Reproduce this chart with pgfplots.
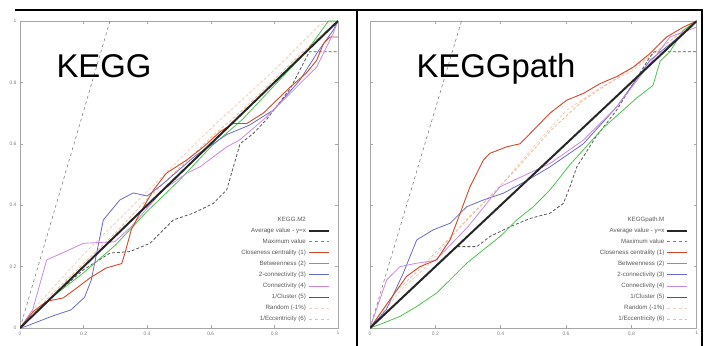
\documentclass[border=0pt]{standalone}
\usepackage{pgfplots}
\pgfplotsset{compat=1.18}
\usepackage{fontspec}
\setmainfont{Liberation Sans}

\definecolor{cred}{HTML}{D2462A}
\definecolor{cgreen}{HTML}{4CC24C}
\definecolor{cblue}{HTML}{6A6AC8}
\definecolor{cmag}{HTML}{CC88E0}
\definecolor{cdg}{HTML}{555555}
\definecolor{crand}{HTML}{F6CDBB}
\definecolor{cecc}{HTML}{F0BC98}

\pgfplotsset{
 panel/.style={scale only axis, height=307bp,
  xmin=0,xmax=1,ymin=0,ymax=1,
  xtick={0,0.2,0.4,0.6,0.8,1}, ytick={0,0.2,0.4,0.6,0.8,1},
  tick align=inside, tick pos=both, major tick length=3bp,
  axis line style={draw=gray!70, line width=0.6bp},
  tick style={draw=gray!70, line width=0.5bp},
  ticklabel style={font=\fontsize{5}{6}\selectfont, text=gray},
  /pgf/number format/assume math mode=true,
  legend cell align=right, legend plot pos=right,
  legend style={draw=none, fill=none, font=\fontsize{6.2}{7}\selectfont, text=black!65,
    at={(0.975,0.012)}, anchor=south east, row sep=1.1bp, inner sep=0pt},
  legend image code/.code={\draw[#1] (0bp,0bp) -- (20bp,0bp);},
  anchor=south west,
  every axis plot/.append style={line width=0.8bp},
 },
}

\begin{document}
\begin{tikzpicture}[x=1bp,y=1bp]
\useasboundingbox (0,0) rectangle (705,345);
% frames
\draw[line width=2bp] (15,335) -- (702,335);
\draw[line width=2bp] (357,335) -- (357,-2);
\draw[line width=2bp] (702,336) -- (702,-2);

%================ KEGG =================
\begin{axis}[panel, width=318bp, at={(20bp,17bp)}]
\addlegendimage{empty legend}\addlegendentry{KEGG.M2}
\addlegendimage{black!85, line width=2bp}\addlegendentry{Average value - y=x}
\addlegendimage{gray, dashed, line width=0.6bp}\addlegendentry{Maximum value}
\addlegendimage{cred, line width=0.9bp}\addlegendentry{Closeness centrality (1)}
\addlegendimage{cgreen, line width=0.9bp}\addlegendentry{Betweenness (2)}
\addlegendimage{cblue, line width=0.9bp}\addlegendentry{2-connectivity (3)}
\addlegendimage{cmag, line width=0.9bp}\addlegendentry{Connectivity (4)}
\addlegendimage{cdg, line width=0.9bp}\addlegendentry{1/Cluster (5)}
\addlegendimage{crand, dashed, line width=0.9bp}\addlegendentry{Random (-1\%)}
\addlegendimage{cecc, dashed, line width=0.9bp}\addlegendentry{1/Eccentricity (6)}
% Maximum value
\addplot[forget plot, gray, dashed, line width=0.6bp] coordinates {(0,0) (0.283,1)};
% Random
\addplot[forget plot, crand, densely dashed] coordinates {(0,0) (0.05,0.07) (0.2,0.24) (0.4,0.445) (0.6,0.65) (0.8,0.84) (0.943,0.988) (1,1)};
% 1/Eccentricity
\addplot[forget plot, cecc, densely dashed] coordinates {(0,0) (0.1,0.11) (0.2,0.21) (0.3,0.31) (0.4,0.42) (0.5,0.52) (0.6,0.62) (0.7,0.71) (0.8,0.81) (0.9,0.91) (1,1)};
% 1/Cluster
\addplot[forget plot, cdg, densely dashed] coordinates {(0,0) (0.1,0.1) (0.2,0.19) (0.283,0.244) (0.346,0.249) (0.409,0.276) (0.482,0.352) (0.545,0.374) (0.608,0.406) (0.65,0.45) (0.671,0.525) (0.692,0.60) (0.734,0.634) (0.776,0.68) (0.85,0.78) (0.91,0.9) (1,0.9)};
% Betweenness
\addplot[forget plot, cgreen] coordinates {(0,0) (0.1,0.1) (0.2,0.18) (0.3,0.27) (0.4,0.38) (0.5,0.48) (0.6,0.59) (0.7,0.68) (0.8,0.79) (0.9,0.9) (0.97,1) (1,1)};
% 2-connectivity
\addplot[forget plot, cblue] coordinates {(0,0) (0.015,0.004) (0.097,0.037) (0.16,0.059) (0.203,0.10) (0.224,0.156) (0.262,0.352) (0.314,0.417) (0.356,0.44) (0.4,0.43) (0.45,0.47) (0.55,0.56) (0.65,0.63) (0.72,0.66) (0.797,0.71) (0.88,0.807) (0.94,0.905) (0.985,0.97) (1,1)};
% Connectivity
\addplot[forget plot, cmag] coordinates {(0,0) (0.04,0.06) (0.084,0.222) (0.13,0.243) (0.2,0.276) (0.298,0.281) (0.35,0.33) (0.45,0.45) (0.524,0.504) (0.566,0.525) (0.65,0.59) (0.69,0.612) (0.776,0.688) (0.828,0.742) (0.933,0.85) (0.985,0.96) (1,1)};
% Closeness
\addplot[forget plot, cred, line width=0.9bp] coordinates {(0,0) (0.042,0.054) (0.084,0.087) (0.136,0.098) (0.178,0.13) (0.22,0.163) (0.27,0.195) (0.32,0.21) (0.33,0.244) (0.35,0.32) (0.377,0.374) (0.42,0.45) (0.46,0.504) (0.524,0.547) (0.577,0.59) (0.63,0.64) (0.67,0.666) (0.713,0.666) (0.765,0.70) (0.807,0.742) (0.85,0.785) (0.90,0.83) (0.933,0.872) (0.954,0.926) (0.975,0.948) (1,0.948)};
% Average
\addplot[forget plot, black!85, line width=2bp] coordinates {(0,0) (1,1)};
\end{axis}
\node[anchor=base west, font=\fontsize{33}{36}\selectfont] at (53,268) {KEGG};

%================ KEGGpath =================
\begin{axis}[panel, width=326.7bp, at={(370bp,17bp)}, yticklabels={}]
\addlegendimage{empty legend}\addlegendentry{KEGGpath.M}
\addlegendimage{black!85, line width=2bp}\addlegendentry{Average value - y=x}
\addlegendimage{gray, dashed, line width=0.6bp}\addlegendentry{Maximum value}
\addlegendimage{cred, line width=0.9bp}\addlegendentry{Closeness centrality (1)}
\addlegendimage{cgreen, line width=0.9bp}\addlegendentry{Betweenness (2)}
\addlegendimage{cblue, line width=0.9bp}\addlegendentry{2-connectivity (3)}
\addlegendimage{cmag, line width=0.9bp}\addlegendentry{Connectivity (4)}
\addlegendimage{cdg, line width=0.9bp}\addlegendentry{1/Cluster (5)}
\addlegendimage{crand, dashed, line width=0.9bp}\addlegendentry{Random (-1\%)}
\addlegendimage{cecc, dashed, line width=0.9bp}\addlegendentry{1/Eccentricity (6)}
% Maximum value
\addplot[forget plot, gray, dashed, line width=0.6bp] coordinates {(0,0) (0.28,1)};
% Random
\addplot[forget plot, crand, densely dashed] coordinates {(0,0) (0.1,0.13) (0.173,0.2) (0.3,0.36) (0.398,0.46) (0.5,0.59) (0.602,0.71) (0.7,0.78) (0.806,0.84) (0.9,0.92) (0.959,0.97) (1,1)};
% 1/Eccentricity
\addplot[forget plot, cecc, densely dashed] coordinates {(0,0) (0.08,0.12) (0.15,0.19) (0.25,0.3) (0.35,0.41) (0.45,0.52) (0.55,0.64) (0.65,0.74) (0.75,0.81) (0.85,0.88) (0.95,0.96) (1,1)};
% 1/Cluster
\addplot[forget plot, cdg, densely dashed] coordinates {(0,0) (0.1,0.1) (0.2,0.2) (0.265,0.265) (0.327,0.265) (0.367,0.298) (0.429,0.33) (0.49,0.357) (0.551,0.374) (0.592,0.406) (0.612,0.46) (0.633,0.525) (0.69,0.62) (0.755,0.71) (0.857,0.883) (0.87,0.9) (1,0.9)};
% Betweenness
\addplot[forget plot, cgreen] coordinates {(0,0) (0.041,0.016) (0.092,0.038) (0.143,0.07) (0.204,0.114) (0.245,0.157) (0.296,0.211) (0.347,0.255) (0.398,0.298) (0.449,0.352) (0.5,0.395) (0.551,0.45) (0.612,0.532) (0.713,0.651) (0.816,0.749) (0.866,0.79) (0.888,0.869) (0.918,0.90) (0.959,0.97) (1,1)};
% 2-connectivity
\addplot[forget plot, cblue] coordinates {(0,0) (0.05,0.06) (0.102,0.179) (0.143,0.287) (0.194,0.32) (0.245,0.341) (0.296,0.395) (0.347,0.417) (0.408,0.439) (0.48,0.48) (0.551,0.525) (0.653,0.60) (0.755,0.72) (0.857,0.872) (0.959,0.96) (1,1)};
% Connectivity
\addplot[forget plot, cmag] coordinates {(0,0) (0.051,0.157) (0.092,0.20) (0.143,0.211) (0.2,0.22) (0.3,0.33) (0.398,0.46) (0.551,0.536) (0.653,0.612) (0.755,0.72) (0.857,0.862) (0.918,0.948) (1,0.98)};
% Closeness
\addplot[forget plot, cred, line width=0.9bp] coordinates {(0,0) (0.061,0.092) (0.112,0.168) (0.153,0.20) (0.204,0.222) (0.245,0.287) (0.276,0.374) (0.306,0.46) (0.347,0.547) (0.367,0.569) (0.418,0.59) (0.459,0.60) (0.51,0.655) (0.551,0.70) (0.602,0.742) (0.653,0.764) (0.704,0.796) (0.755,0.819) (0.806,0.85) (0.857,0.894) (0.908,0.948) (0.959,0.98) (1,1)};
% Average
\addplot[forget plot, black!85, line width=2bp] coordinates {(0,0) (1,1)};
\end{axis}
\node[anchor=base west, font=\fontsize{33}{36}\selectfont] at (413,268) {KEGGpath};
\end{tikzpicture}
\end{document}
